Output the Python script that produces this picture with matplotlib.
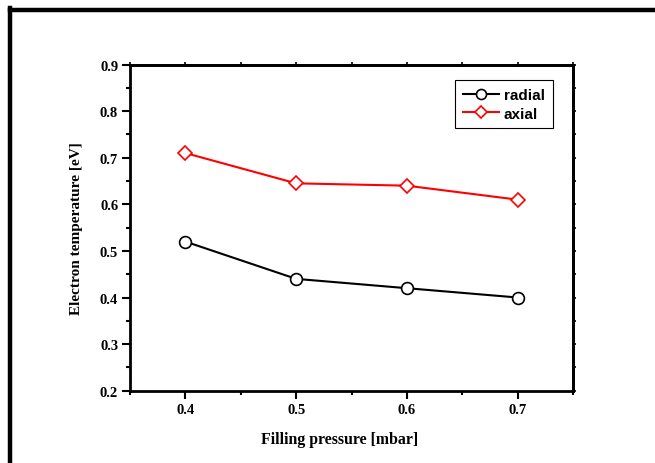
import matplotlib.pyplot as plt
from matplotlib.lines import Line2D
from matplotlib.ticker import MultipleLocator

pressure = [0.4, 0.5, 0.6, 0.7]
radial = [0.52, 0.44, 0.42, 0.40]
axial = [0.71, 0.645, 0.64, 0.61]

serif = ["Liberation Serif", "DejaVu Serif"]
sans = ["Liberation Sans", "DejaVu Sans"]

plt.rcParams.update({"font.family": serif, "font.weight": "bold",
                     "axes.labelweight": "bold"})

fig = plt.figure(figsize=(6.55, 4.64), dpi=100)
ax = fig.add_axes([0.1985, 0.1558, 0.6763, 0.703])

ax.plot(pressure, radial, color="black", lw=1.5, marker="o", ms=8.5,
        mfc="white", mec="black", mew=1.2, label="radial")
ax.plot(pressure, axial, color="red", lw=1.5, marker="D", ms=7.5,
        mfc="white", mec="red", mew=1.2, label="axial")

ax.set_xlim(0.35, 0.75)
ax.set_ylim(0.2, 0.9)
ax.xaxis.set_major_locator(MultipleLocator(0.1))
ax.xaxis.set_minor_locator(MultipleLocator(0.05))
ax.yaxis.set_major_locator(MultipleLocator(0.1))
ax.yaxis.set_minor_locator(MultipleLocator(0.05))
ax.tick_params(which="both", direction="out", width=1.5, labelsize=10.5)
ax.tick_params(which="major", length=6, pad=2.5)
ax.tick_params(which="minor", length=3)
for s in ax.spines.values():
    s.set_linewidth(2.0)

# short ticks on the top and right spines, no labels
top = ax.secondary_xaxis("top")
top.xaxis.set_major_locator(MultipleLocator(0.1))
top.xaxis.set_minor_locator(MultipleLocator(0.05))
top.tick_params(which="both", direction="out", length=2, width=1.2,
                labeltop=False)
right = ax.secondary_yaxis("right")
right.yaxis.set_major_locator(MultipleLocator(0.1))
right.yaxis.set_minor_locator(MultipleLocator(0.05))
right.tick_params(which="both", direction="out", length=2, width=1.2,
                  labelright=False)
for sec in (top, right):
    for s in sec.spines.values():
        s.set_linewidth(2.0)

ax.set_xlabel("Filling pressure [mbar]", fontsize=11.4)
ax.set_ylabel("Electron temperature [eV]", fontsize=11)
ax.xaxis.set_label_coords(0.472, -0.124)
ax.yaxis.set_label_coords(-0.106, 0.5)

leg = ax.legend(loc="upper right", bbox_to_anchor=(0.971, 0.975),
                prop={"family": sans, "weight": "bold", "size": 11},
                fancybox=False, framealpha=1, edgecolor="black",
                handlelength=2.4, handletextpad=0.3, borderpad=0.5,
                labelspacing=0.3, markerscale=0.85)
leg.get_frame().set_linewidth(0.8)

# outer frame lines (top and left)
fig.add_artist(Line2D([10 / 655, 1.0], [1 - 11 / 464, 1 - 11 / 464],
                      color="black", lw=3.2, transform=fig.transFigure))
fig.add_artist(Line2D([10 / 655, 10 / 655], [0.0, 1 - 9 / 464],
                      color="black", lw=3.2, transform=fig.transFigure))

fig.savefig("out.png", dpi=100)
